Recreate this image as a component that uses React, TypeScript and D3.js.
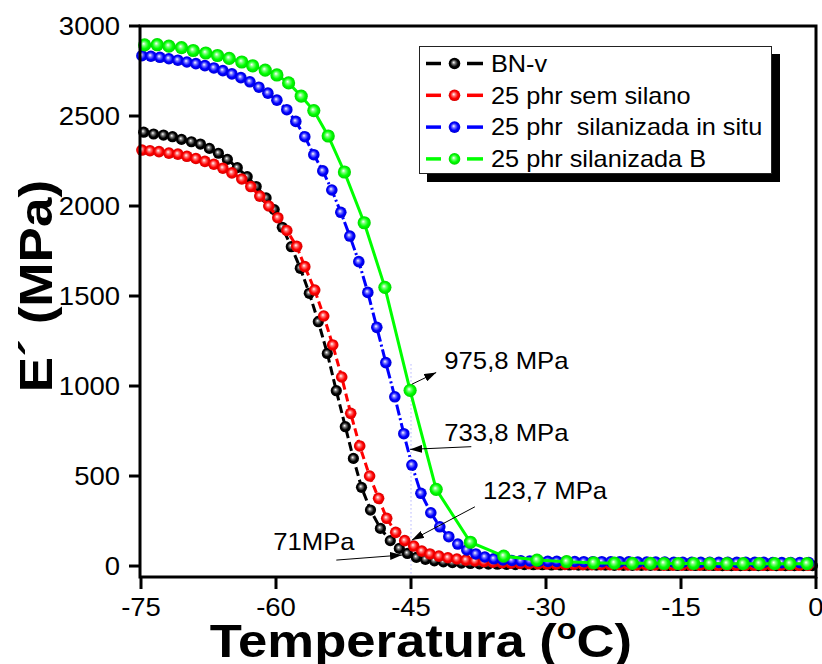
import React, { useRef, useEffect } from "react";
import * as d3 from "d3";

// temperature (°C), storage modulus E' (MPa)
const bnV = [
  [-74.7, 2410], [-73.6, 2400], [-72.5, 2394], [-71.5, 2385], [-70.5, 2370], [-69.4, 2357],
  [-68.4, 2344], [-67.4, 2320], [-66.4, 2293], [-65.4, 2259], [-64.3, 2213], [-63.2, 2163],
  [-62.2, 2108], [-61.1, 2045], [-60.2, 1980], [-59.3, 1882], [-58.3, 1774], [-57.3, 1654],
  [-56.3, 1515], [-55.3, 1357], [-54.3, 1181], [-53.3, 974], [-52.3, 774], [-51.4, 598],
  [-50.5, 437], [-49.5, 311], [-48.4, 209], [-47.3, 141], [-46.3, 98], [-45.4, 70],
  [-44.4, 48], [-43.4, 37], [-42.4, 29], [-41.4, 23], [-40.4, 19], [-39.4, 16], [-38.4, 14],
  [-37.4, 12], [-36.4, 11], [-35.4, 10], [-34.4, 9], [-33.4, 8], [-32.4, 8], [-31.4, 7],
  [-30.4, 7], [-29.4, 6], [-28.4, 6], [-27.4, 6], [-26.4, 5], [-25.4, 5], [-24.4, 5],
  [-23.4, 5], [-22.4, 4], [-21.4, 4], [-20.4, 4], [-19.4, 4], [-18.4, 4], [-17.4, 3],
  [-16.4, 3], [-15.4, 3], [-14.4, 3], [-13.4, 3], [-12.4, 3], [-11.4, 3], [-10.4, 2],
  [-9.4, 2], [-8.4, 2], [-7.4, 2], [-6.4, 2], [-5.4, 2], [-4.4, 2], [-3.4, 2], [-2.4, 2],
  [-1.4, 2], [-0.4, 2],
];

const semSilano = [
  [-74.9, 2311], [-74.0, 2307], [-73.0, 2302], [-71.9, 2294], [-70.9, 2288], [-69.9, 2276],
  [-68.9, 2264], [-67.9, 2248], [-66.9, 2232], [-65.9, 2210], [-64.9, 2184], [-63.8, 2150],
  [-62.8, 2108], [-61.8, 2055], [-60.8, 2000], [-59.8, 1935], [-58.8, 1864], [-57.7, 1776],
  [-56.8, 1663], [-55.7, 1533], [-54.7, 1389], [-53.7, 1228], [-52.7, 1050], [-51.7, 848],
  [-50.7, 667], [-49.6, 500], [-48.6, 376], [-47.7, 265], [-46.7, 187], [-45.7, 141],
  [-44.7, 111], [-43.8, 83], [-42.9, 67], [-41.9, 55], [-40.9, 46], [-39.9, 39], [-38.9, 33],
  [-37.9, 28], [-36.9, 24], [-35.9, 21], [-34.9, 18], [-33.9, 16], [-32.9, 14], [-31.9, 13],
  [-30.9, 12], [-29.9, 11], [-28.9, 10], [-27.9, 9], [-26.9, 9], [-25.9, 8], [-24.9, 8],
  [-23.9, 7], [-22.9, 7], [-21.9, 7], [-20.9, 6], [-19.9, 6], [-18.9, 6], [-17.9, 6],
  [-16.9, 5], [-15.9, 5], [-14.9, 5], [-13.9, 5], [-12.9, 5], [-11.9, 5], [-10.9, 4],
  [-9.9, 4], [-8.9, 4], [-7.9, 4], [-6.9, 4], [-5.9, 4], [-4.9, 4], [-3.9, 4], [-2.9, 4],
  [-1.9, 4], [-0.9, 4],
];

const inSitu = [
  [-74.9, 2835], [-73.9, 2832], [-72.9, 2826], [-71.9, 2818], [-70.9, 2810], [-69.9, 2800],
  [-68.9, 2791], [-67.9, 2780], [-66.9, 2767], [-65.9, 2752], [-64.9, 2734], [-63.9, 2713],
  [-62.9, 2690], [-61.9, 2660], [-60.9, 2627], [-59.9, 2588], [-58.8, 2535], [-57.8, 2470],
  [-56.8, 2385], [-55.8, 2285], [-54.8, 2195], [-53.8, 2089], [-52.8, 1965], [-51.8, 1833],
  [-50.8, 1691], [-49.8, 1520], [-48.8, 1326], [-47.8, 1130], [-46.8, 940], [-45.8, 735],
  [-44.9, 561], [-43.9, 404], [-42.8, 296], [-41.8, 218], [-40.8, 163], [-39.8, 122],
  [-38.8, 89], [-37.8, 67], [-36.8, 50], [-35.8, 40], [-34.8, 34], [-33.8, 31], [-32.8, 29],
  [-31.8, 28], [-30.8, 27], [-29.8, 26], [-28.8, 26], [-27.8, 25], [-26.8, 25], [-25.8, 24],
  [-24.8, 24], [-23.8, 24], [-22.8, 23], [-21.8, 23], [-20.8, 23], [-19.8, 22], [-18.8, 22],
  [-17.8, 22], [-16.8, 22], [-15.8, 21], [-14.8, 21], [-13.8, 21], [-12.8, 21], [-11.8, 21],
  [-10.8, 20], [-9.8, 20], [-8.8, 20], [-7.8, 20], [-6.8, 20], [-5.8, 20], [-4.8, 19],
  [-3.8, 19], [-2.8, 19], [-1.8, 19], [-0.8, 19],
];

const silanizadaB = [
  [-74.6, 2895], [-73.2, 2896], [-71.9, 2888], [-70.5, 2880], [-69.2, 2864], [-67.8, 2850],
  [-66.5, 2836], [-65.2, 2820], [-63.8, 2800], [-62.6, 2779], [-61.2, 2755], [-59.9, 2728],
  [-58.6, 2684], [-57.2, 2610], [-55.8, 2530], [-54.2, 2389], [-52.4, 2189], [-50.2, 1907],
  [-47.9, 1548], [-45.1, 976], [-42.2, 426], [-38.4, 132], [-34.7, 55], [-31.0, 33],
  [-27.7, 24], [-24.7, 18], [-22.4, 16], [-20.4, 15], [-18.4, 15], [-16.9, 14], [-15.3, 14],
  [-13.6, 14], [-11.8, 14], [-9.9, 13], [-8.1, 13], [-6.3, 13], [-4.6, 13], [-2.9, 13],
  [-1.0, 13],
];

const seriesNames = ["BN-v", "25 phr sem silano", "25 phr  silanizada in situ", "25 phr silanizada B"];
const seriesData = [bnV, semSilano, inSitu, silanizadaB];
const seriesColors = ["#000000", "#ff0000", "#0000ff", "#00ff00"];

const xTicks = [-75, -60, -45, -30, -15, 0];
const yTicks = [0, 500, 1000, 1500, 2000, 2500, 3000];

// labels: text, text anchor [T, E], arrow tail, arrow tip
const notes = [
  { text: "975,8 MPa", at: [-41.3, 1094], from: [-44.9, 1010], to: [-42.2, 1075] },
  { text: "733,8 MPa", at: [-41.3, 694], from: [-38.3, 663], to: [-45.1, 648] },
  { text: "123,7 MPa", at: [-37.0, 372], from: [-37.9, 329], to: [-44.9, 144] },
  { text: "71MPa", at: [-60.3, 89], from: [-53.3, 33], to: [-46.0, 61] },
];

const FONT = "'Liberation Sans', Arial, sans-serif";

export default function App() {
  const ref = useRef(null);

  useEffect(() => {
    const svg = d3.select(ref.current);
    svg.selectAll("*").remove();

    const x = d3.scaleLinear().domain([-75, 0]).range([141, 816]);
    const y = d3.scaleLinear().domain([-61, 3000]).range([577, 26]);

    const label = (g, str, px, py, size, anchor, weight = "normal", sx = 1.1) =>
      g.append("text")
        .attr("transform", `translate(${px},${py}) scale(${sx},1)`)
        .attr("text-anchor", anchor)
        .style("font-family", FONT)
        .style("font-size", size + "px")
        .style("font-weight", weight)
        .style("white-space", "pre")
        .text(str);

    const defs = svg.append("defs");
    seriesColors.forEach((c, i) => {
      const grad = defs.append("radialGradient")
        .attr("id", "ball" + i)
        .attr("cx", "50%").attr("cy", "50%").attr("r", "50%")
        .attr("fx", "42%").attr("fy", "40%");
      grad.append("stop").attr("offset", "0").attr("stop-color", "#ffffff");
      grad.append("stop").attr("offset", "0.3").attr("stop-color", d3.interpolateRgb(c, "#ffffff")(0.45));
      grad.append("stop").attr("offset", "0.65").attr("stop-color", c);
      grad.append("stop").attr("offset", "1").attr("stop-color", d3.color(c).darker(0.5).toString());
    });
    defs.append("marker")
      .attr("id", "head")
      .attr("viewBox", "0 0 12 8")
      .attr("refX", 12).attr("refY", 4)
      .attr("markerWidth", 12).attr("markerHeight", 8)
      .attr("markerUnits", "userSpaceOnUse")
      .attr("orient", "auto")
      .append("path").attr("d", "M0,0 L12,4 L0,8 Z").attr("fill", "#000");

    // dotted guide at -45 °C
    svg.append("line")
      .attr("x1", x(-45)).attr("x2", x(-45))
      .attr("y1", y(1120)).attr("y2", y(-61))
      .attr("stroke", "#8c8cff").attr("stroke-width", 1)
      .attr("stroke-dasharray", "1,3");

    const line = d3.line().x(d => x(d[0])).y(d => y(d[1]));
    const dashes = ["9,4", "8,4", "11,3,2,3", null];
    const radii = [5.6, 5.8, 5.8, 6.6];

    seriesData.forEach((data, i) => {
      svg.append("path")
        .datum(data)
        .attr("d", line)
        .attr("fill", "none")
        .attr("stroke", seriesColors[i])
        .attr("stroke-width", 3)
        .attr("stroke-dasharray", dashes[i]);
      svg.append("g").selectAll("circle")
        .data(data)
        .enter()
        .append("circle")
        .attr("cx", d => x(d[0]))
        .attr("cy", d => y(d[1]))
        .attr("r", radii[i])
        .attr("fill", `url(#ball${i})`);
    });

    // frame + axes
    svg.append("rect")
      .attr("x", 140).attr("y", 26)
      .attr("width", 676).attr("height", 551)
      .attr("fill", "none").attr("stroke", "#000").attr("stroke-width", 3);

    const axes = svg.append("g");
    yTicks.forEach(v => {
      axes.append("line").attr("x1", 129).attr("x2", 140).attr("y1", y(v)).attr("y2", y(v))
        .attr("stroke", "#000").attr("stroke-width", 3);
      label(axes, String(v), 120, y(v) + 9, 25, "end");
    });
    xTicks.forEach(v => {
      axes.append("line").attr("x1", x(v)).attr("x2", x(v)).attr("y1", 577).attr("y2", 589)
        .attr("stroke", "#000").attr("stroke-width", 3);
      label(axes, String(v), x(v), 616, 25, "middle");
    });

    const title = label(axes, "", 421, 657, 47, "middle", "bold", 1.12);
    title.append("tspan").text("Temperatura (");
    title.append("tspan").attr("dy", -18).style("font-size", "29px").text("o");
    title.append("tspan").attr("dy", 18).text("C)");

    axes.append("text")
      .attr("transform", "translate(52,286) rotate(-90) scale(1.13,1)")
      .attr("text-anchor", "middle")
      .style("font-family", FONT)
      .style("font-size", "47px")
      .style("font-weight", "bold")
      .text("E\u00b4 (MPa)");

    // annotations
    const ann = svg.append("g");
    notes.forEach(n => {
      ann.append("line")
        .attr("x1", x(n.from[0])).attr("y1", y(n.from[1]))
        .attr("x2", x(n.to[0])).attr("y2", y(n.to[1]))
        .attr("stroke", "#000").attr("stroke-width", 1)
        .attr("marker-end", "url(#head)");
      label(ann, n.text, x(n.at[0]), y(n.at[1]), 24, "start", "normal", 1.07);
    });

    // legend
    const lg = svg.append("g");
    lg.append("rect").attr("x", 427).attr("y", 54).attr("width", 353).attr("height", 128).attr("fill", "#000");
    lg.append("rect").attr("x", 419.5).attr("y", 46.5).attr("width", 352).attr("height", 127)
      .attr("fill", "#fff").attr("stroke", "#222").attr("stroke-width", 1);
    seriesNames.forEach((name, i) => {
      const cy = 63.5 + i * 31.8;
      [[426, 441], [467, 483]].forEach(([a, b]) => {
        lg.append("line").attr("x1", a).attr("x2", b).attr("y1", cy).attr("y2", cy)
          .attr("stroke", seriesColors[i]).attr("stroke-width", 3.5);
      });
      lg.append("circle").attr("cx", 454.5).attr("cy", cy).attr("r", 5.8).attr("fill", `url(#ball${i})`);
      label(lg, name, 491, cy + 8.3, 23, "start");
    });
  }, []);

  return <svg ref={ref} width={822} height={664} style={{ position: "absolute", left: 0, top: 0 }}></svg>;
}
